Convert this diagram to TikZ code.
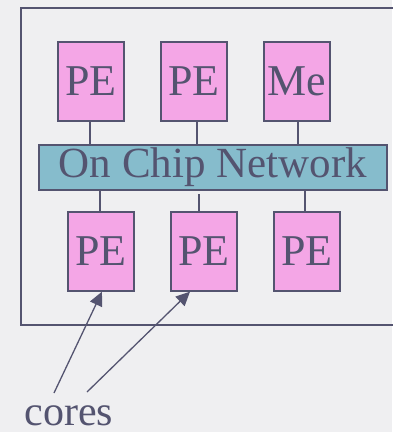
\documentclass[tikz,border=0pt]{standalone}
\usepackage{fontspec}
\setmainfont{Liberation Serif}
\newfontfamily\timesfont{Liberation Serif}
\usetikzlibrary{arrows.meta}
\definecolor{ink}{HTML}{545470}
\definecolor{pefill}{HTML}{F4A6E6}
\definecolor{netfill}{HTML}{86BCCC}
\definecolor{paper}{HTML}{EFEFF1}
\begin{document}
\begin{tikzpicture}[x=1pt,y=-1pt,
  pebox/.style={draw=ink,line width=1.3pt,fill=pefill,minimum width=66pt,minimum height=79pt,
    inner sep=0pt,text=ink,font=\timesfont\fontsize{44}{44}\selectfont},
  netbox/.style={draw=ink,line width=1.3pt,fill=netfill,minimum width=348pt,minimum height=45pt,
    inner sep=0pt,text=ink,font=\timesfont\fontsize{43}{43}\selectfont},
  wire/.style={draw=ink,line width=1.3pt},
  pointer/.style={draw=ink,line width=1.3pt,-{Triangle[length=14pt,width=13pt]}}]
  \path[fill=paper] (0,0) rectangle (392,432);
  \useasboundingbox (0,0) rectangle (392,432);
  % chip outline, running off the right edge
  \draw[ink,line width=1.3pt] (396,8) -- (21,8) -- (21,325) -- (396,325);
  % processing elements and memory
  \node[pebox] (pe1) at (91,81.5) {PE};
  \node[pebox] (pe2) at (194,81.5) {PE};
  \node[pebox] (me)  at (297,81.5) {Me};
  \node[netbox] (net) at (213,167.5) {On Chip Network};
  \node[pebox] (pe3) at (101,251.5) {PE};
  \node[pebox] (pe4) at (204,251.5) {PE};
  \node[pebox] (pe5) at (307,251.5) {PE};
  % links to the network
  \draw[wire] (pe1.south -| 90,0) -- (net.north -| 90,0);
  \draw[wire] (pe2.south -| 197,0) -- (net.north -| 197,0);
  \draw[wire] (me.south -| 298,0) -- (net.north -| 298,0);
  \draw[wire] (net.south -| 100,0) -- (pe3.north -| 100,0);
  \draw[wire] (199,194) -- (pe4.north -| 199,0);
  \draw[wire] (net.south -| 305,0) -- (pe5.north -| 305,0);
  % label with pointers
  \node[text=ink,font=\timesfont\fontsize{42}{42}\selectfont,anchor=base,inner sep=0pt] (cores) at (69,425) {cores};
  \coordinate (c1) at (54,393);
  \coordinate (c2) at (87,392);
  \draw[pointer] (c1) -- (pe3.south -| 102,0);
  \draw[pointer] (c2) -- (pe4.south -| 190,0);
\end{tikzpicture}
\end{document}
